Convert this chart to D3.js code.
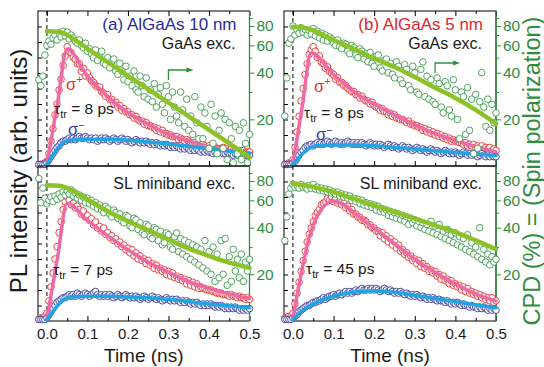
<!DOCTYPE html>
<html>
<head>
<meta charset="utf-8">
<script src="https://cdn.jsdelivr.net/npm/d3@7"></script>
<style>
  body { margin: 0; background: #fff; }
  text { font-family: "Liberation Sans", Arial, Helvetica, sans-serif; font-weight: 400; }
</style>
</head>
<body>
<svg width="544" height="367"></svg>
<script>
// traces are sampled every 5 ps from -20 ps
const t0 = -0.02, dt = 0.005;

// (a) AlGaAs 10 nm, GaAs excitation
const redA = [
  0.1,0.1,0.1,0.2,0.3,0.8,1.6,2.4,3.3,4.0,
  4.9,5.6,6.5,7.1,7.7,7.4,7.3,7.0,6.9,6.6,
  6.6,6.1,6.3,5.8,6.0,5.7,5.5,5.4,5.2,5.1,
  5.1,4.8,4.7,4.5,4.6,4.3,4.3,4.0,4.1,3.8,
  3.9,3.6,3.7,3.5,3.5,3.3,3.3,3.1,3.2,3.0,
  2.9,2.9,2.7,2.8,2.6,2.6,2.5,2.5,2.3,2.4,
  2.2,2.3,2.1,2.1,2.0,2.0,1.9,1.9,1.9,1.7,
  1.8,1.7,1.6,1.7,1.6,1.5,1.5,1.5,1.4,1.4,
  1.3,1.4,1.3,1.2,1.3,1.2,1.1,1.2,1.1,1.1,
  1.1,1.2,1.0,1.1,1.0,1.1,1.0,1.0,0.9,1.0,
  0.9,1.0,0.9,0.9,0.9];
const blueA = [
  0.1,0.1,0.1,0.1,0.2,0.4,0.6,0.8,1.0,1.2,
  1.3,1.5,1.6,1.6,1.7,1.8,1.7,1.8,1.7,1.8,
  1.9,1.8,1.8,1.9,1.8,1.7,1.8,1.7,1.8,1.6,
  1.7,1.8,1.7,1.8,1.7,1.6,1.7,1.8,1.7,1.6,
  1.7,1.8,1.7,1.6,1.7,1.6,1.5,1.6,1.7,1.6,
  1.5,1.6,1.5,1.6,1.5,1.4,1.5,1.4,1.5,1.4,
  1.3,1.4,1.3,1.4,1.3,1.2,1.3,1.2,1.3,1.2,
  1.1,1.2,1.1,1.2,1.1,1.0,1.1,1.0,1.1,1.0,
  0.9,1.0,0.9,1.0,0.9,0.9,0.8,0.9,0.8,0.9,
  0.9,0.8,0.8,0.9,0.8,0.8,0.7,0.8,0.7,0.8,
  0.7,0.8,0.7,0.7,0.7];
const cpdA = [
  36,33,38,52,60,64,61,67,70,65,
  72,68,74,69,73,66,70,67,64,62,
  65,60,58,62,55,57,53,50,56,48,
  52,55,46,45,50,43,47,49,41,39,
  46,41,36,44,35,38,33,41,31,30,
  38,33,28,37,27,31,26,34,24,29,
  32,25,22,33,28,20,30,24,21,19,
  30,23,18,27,17,21,16,28,19,15,
  24,15,22,18,13,25,14,21,12,17,
  22,13,20,11,19,15,10.5,18,12,17,
  11,19,14,10.5,16];

// (b) AlGaAs 5 nm, GaAs excitation
const redB = [
  0.1,0.1,0.2,0.2,0.4,1.2,2.2,3.2,4.2,5.0,
  5.9,6.6,7.2,7.5,7.7,7.4,7.0,7.1,6.7,6.6,
  6.3,6.4,6.1,6.0,5.9,5.6,5.7,5.4,5.4,5.2,
  5.2,5.0,4.9,4.8,4.8,4.6,4.6,4.4,4.5,4.3,
  4.2,4.2,4.0,4.1,3.9,3.8,3.8,3.6,3.7,3.5,
  3.5,3.3,3.4,3.2,3.3,3.1,3.1,3.0,3.0,2.9,
  2.8,2.9,2.7,2.7,2.6,2.6,2.5,2.5,2.3,2.4,
  2.2,2.3,2.1,2.2,2.0,2.1,1.9,2.0,1.8,1.9,
  1.7,1.8,1.6,1.7,1.6,1.6,1.5,1.5,1.4,1.5,
  1.3,1.4,1.3,1.4,1.2,1.3,1.2,1.3,1.1,1.2,
  1.1,1.2,1.0,1.1,1.0];
const blueB = [
  0.1,0.1,0.1,0.1,0.2,0.3,0.5,0.7,0.9,1.0,
  1.2,1.3,1.3,1.4,1.3,1.4,1.5,1.4,1.5,1.4,
  1.5,1.6,1.5,1.4,1.5,1.6,1.5,1.4,1.5,1.4,
  1.5,1.6,1.5,1.4,1.5,1.4,1.5,1.4,1.5,1.4,
  1.3,1.4,1.5,1.4,1.3,1.4,1.3,1.4,1.3,1.2,
  1.3,1.4,1.3,1.2,1.3,1.2,1.1,1.2,1.3,1.2,
  1.1,1.2,1.1,1.0,1.1,1.2,1.1,1.0,1.1,1.0,
  0.9,1.0,1.1,1.0,0.9,1.0,0.9,0.8,0.9,1.0,
  0.9,0.8,0.9,0.8,0.9,0.8,0.7,0.8,0.9,0.8,
  0.7,0.8,0.7,0.8,0.7,0.6,0.7,0.8,0.7,0.6,
  0.7,0.6,0.7,0.6,0.6];
const cpdB = [
  21,37,62,66,80,70,76,72,78,73,
  76,70,75,71,77,69,74,67,72,65,
  70,64,68,66,62,60,65,59,57,62,
  61,55,53,60,58,52,50,57,55,49,
  53,47,54,46,44,51,52,43,41,48,
  49,40,46,39,37,47,44,36,34,45,
  42,33,31,44,40,30,29,42,47,28,
  38,27,36,26,25,37,34,24,22,35,
  33,23,21,36,31,20,15,30,28,16,
  32,17,27,12,29,13,26,40,24,18,
  27,17,25,19,22];

// (a) AlGaAs 10 nm, SL miniband excitation
const redC = [
  0.1,0.2,0.2,0.3,0.5,1.3,2.2,3.1,4.0,4.8,
  5.7,6.4,7.2,7.7,8.0,7.8,7.5,7.6,7.3,7.4,
  7.2,6.9,7.1,6.7,6.8,6.5,6.6,6.2,6.4,6.0,
  6.1,5.8,6.0,5.6,5.7,5.4,5.5,5.2,5.3,5.0,
  5.1,4.8,4.9,4.6,4.7,4.4,4.6,4.2,4.4,4.0,
  4.2,3.9,4.0,3.7,3.9,3.6,3.7,3.4,3.6,3.3,
  3.4,3.2,3.3,3.0,3.2,2.9,3.1,2.8,2.9,2.7,
  2.8,2.6,2.7,2.4,2.6,2.3,2.5,2.2,2.4,2.1,
  2.2,2.1,2.1,2.0,2.0,2.0,1.9,1.9,1.8,1.8,
  1.8,1.7,1.7,1.7,1.6,1.7,1.6,1.6,1.5,1.6,
  1.5,1.5,1.4,1.5,1.4];
const blueC = [
  0.1,0.1,0.1,0.1,0.2,0.4,0.6,0.8,1.0,1.2,
  1.3,1.4,1.5,1.5,1.6,1.7,1.6,1.7,1.6,1.8,
  1.7,1.6,1.7,1.8,1.7,1.6,1.7,1.8,1.9,1.7,
  1.6,1.7,1.6,1.7,1.6,1.7,1.6,1.5,1.6,1.7,
  1.6,1.5,1.6,1.7,1.6,1.5,1.6,1.5,1.6,1.5,
  1.4,1.5,1.6,1.5,1.4,1.5,1.6,1.5,1.4,1.5,
  1.4,1.3,1.4,1.5,1.4,1.3,1.4,1.3,1.4,1.3,
  1.2,1.3,1.2,1.3,1.2,1.1,1.2,1.1,1.2,1.1,
  1.0,1.1,1.0,1.1,1.0,1.1,1.0,0.9,1.0,0.9,
  1.0,0.9,0.8,0.9,0.8,0.9,0.8,0.9,0.8,0.7,
  0.8,0.7,0.8,0.7,0.8];
const cpdC = [
  83,58,72,62,57,60,63,59,64,61,
  66,63,68,65,69,66,70,64,67,62,
  65,60,63,58,62,57,60,55,58,53,
  56,52,50,55,53,49,47,52,50,46,
  49,44,43,48,47,41,40,46,45,39,
  43,37,36,42,41,35,34,40,39,33,
  38,31,32,37,36,30,29,35,37,28,
  34,27,33,26,32,25,31,24,30,23,
  29,22,33,21,28,20,30,18,27,19,
  33,20,34,17,26,18,29,21,25,19,
  27,18,24,21,25];

// (b) AlGaAs 5 nm, SL miniband excitation
const redD = [
  0.2,0.2,0.3,0.3,0.5,1.1,1.8,2.5,3.2,3.9,
  4.5,5.1,5.6,6.0,6.4,6.8,7.0,7.2,7.5,7.6,
  7.7,7.9,7.8,8.0,7.7,7.9,7.6,7.7,7.5,7.6,
  7.3,7.4,7.1,7.2,6.9,6.9,6.7,6.7,6.5,6.5,
  6.4,6.2,6.2,6.0,6.0,5.8,5.8,5.5,5.7,5.3,
  5.5,5.1,5.3,4.9,5.1,4.7,4.9,4.5,4.6,4.3,
  4.4,4.1,4.2,3.9,4.0,3.7,3.9,3.5,3.7,3.4,
  3.5,3.2,3.3,3.1,3.2,2.9,3.0,2.7,2.9,2.6,
  2.7,2.4,2.6,2.3,2.4,2.2,2.3,2.0,2.2,1.9,
  2.1,1.8,1.9,1.7,1.8,1.6,1.7,1.5,1.6,1.4,
  1.5,1.3,1.5,1.2,1.3];
const blueD = [
  0.1,0.1,0.1,0.1,0.2,0.3,0.4,0.6,0.7,0.8,
  0.9,1.0,1.0,1.1,1.2,1.2,1.3,1.3,1.4,1.5,
  1.4,1.5,1.6,1.6,1.7,1.6,1.7,1.8,1.7,1.8,
  1.9,1.8,1.9,1.8,1.9,2.0,1.9,2.0,2.1,2.0,
  2.0,2.1,2.0,2.1,2.0,2.1,2.0,1.9,2.0,2.1,
  2.0,1.9,2.0,1.9,1.8,1.9,1.8,1.9,1.8,1.7,
  1.8,1.7,1.6,1.7,1.6,1.7,1.6,1.5,1.6,1.5,
  1.4,1.5,1.4,1.5,1.4,1.3,1.4,1.3,1.3,1.2,
  1.3,1.2,1.1,1.2,1.1,1.2,1.1,1.0,1.1,1.0,
  1.0,0.9,1.0,0.9,0.9,0.8,0.9,0.8,0.9,0.8,
  0.7,0.8,0.7,0.8,0.7];
const cpdD = [
  33,47,66,72,76,73,75,72,76,73,
  74,71,75,72,76,71,73,70,72,69,
  71,68,70,67,68,66,68,64,66,63,
  65,62,64,60,62,59,61,57,60,56,
  58,55,57,54,56,52,55,51,53,50,
  52,48,51,47,50,46,49,45,48,44,
  47,42,46,43,45,41,44,40,43,39,
  42,38,44,37,41,36,42,35,38,34,
  39,33,36,32,37,31,35,30,34,29,
  36,28,32,27,30,26,40,25,29,24,
  27,23,26,24,25];

// fitted curves: [time (ns), value]
const fitRedA = [[0,0.15],[0.025,3.85],[0.05,7.55],[0.1,5.8],[0.15,4.5],[0.2,3.45],[0.25,2.7],[0.3,2.05],[0.35,1.6],[0.4,1.25],[0.45,0.98],[0.5,0.8]];
const fitBlueA = [[0,0.1],[0.02,0.9],[0.04,1.5],[0.06,1.68],[0.1,1.72],[0.15,1.72],[0.2,1.66],[0.25,1.55],[0.3,1.42],[0.35,1.27],[0.4,1.12],[0.45,0.96],[0.5,0.8]];
const fitCpdA = [[0,74],[0.03,73.5],[0.05,70],[0.1,57.2],[0.15,46.8],[0.2,38.2],[0.25,31.3],[0.3,25.6],[0.35,20.9],[0.4,17.1],[0.45,14],[0.5,11.4]];

const fitRedB = [[0,0.15],[0.022,3.7],[0.045,7.3],[0.1,5.9],[0.15,4.8],[0.2,4.0],[0.25,3.3],[0.3,2.65],[0.35,2.1],[0.4,1.65],[0.45,1.25],[0.5,0.9]];
const fitBlueB = [[0,0.1],[0.02,0.7],[0.04,1.15],[0.06,1.3],[0.1,1.35],[0.15,1.35],[0.2,1.3],[0.25,1.2],[0.3,1.1],[0.35,0.98],[0.4,0.87],[0.45,0.77],[0.5,0.68]];
const fitCpdB = [[0,79],[0.03,77.5],[0.05,75],[0.08,69],[0.1,65],[0.15,57],[0.2,49.5],[0.25,43.5],[0.3,37.5],[0.35,32],[0.4,27.5],[0.45,23],[0.5,18.7]];

const fitRedC = [[0,0.15],[0.025,3.9],[0.05,7.6],[0.1,6.5],[0.15,5.5],[0.2,4.6],[0.25,3.8],[0.3,3.15],[0.35,2.55],[0.4,2.1],[0.45,1.75],[0.5,1.45]];
const fitBlueC = [[0,0.1],[0.02,0.8],[0.04,1.35],[0.06,1.55],[0.1,1.6],[0.15,1.6],[0.2,1.55],[0.25,1.5],[0.3,1.4],[0.35,1.25],[0.4,1.1],[0.45,0.98],[0.5,0.85]];
const fitCpdC = [[0,75],[0.03,74.5],[0.05,72],[0.1,61],[0.15,51],[0.2,44],[0.25,38.5],[0.3,33.5],[0.35,29.3],[0.4,26.3],[0.45,23.8],[0.5,22]];

const fitRedD = [[0,0.2],[0.02,3.0],[0.04,5.4],[0.06,6.8],[0.08,7.5],[0.1,7.75],[0.12,7.6],[0.15,7.0],[0.2,6.0],[0.25,5.0],[0.3,4.0],[0.35,3.15],[0.4,2.4],[0.45,1.75],[0.5,1.3]];
const fitBlueD = [[0,0.1],[0.02,0.6],[0.05,1.1],[0.1,1.6],[0.15,1.85],[0.2,1.95],[0.25,1.85],[0.3,1.65],[0.35,1.45],[0.4,1.25],[0.45,1.05],[0.5,0.85]];
const fitCpdD = [[0,77],[0.05,73.3],[0.1,68],[0.15,61.5],[0.2,55.7],[0.25,50.5],[0.3,45.7],[0.35,41.4],[0.4,37.5],[0.45,33.1],[0.5,29]];

const timeTicks = [0, 0.1, 0.2, 0.3, 0.4, 0.5];
const timeMinor = [0.05, 0.15, 0.25, 0.35, 0.45];
const cpdTicks = [20, 40, 60, 80];
const cpdMinor = [30, 50, 70, 90];

const C = {
  red: '#e6302a', blue: '#3a3a9c', green: '#3c9a4c',
  pink: '#ee6aa6', cyan: '#20a4e2', lime: '#8cc228', axisGreen: '#2f8e3e'
};

const svg = d3.select('svg');

const panels = [
  {x0: 38, x1: 249.5, y0: 11, y1: 166, red: redA, blue: blueA, cpd: cpdA, fr: fitRedA, fb: fitBlueA, fc: fitCpdA,
   title: '(a) AlGaAs 10 nm', titleColor: '#2b2b98', exc: 'GaAs exc.', excDy: 38, tau: '8', tauX: 16, tauDy: 103,
   sig: {px: 28, py: 79, mx: 30, my: 124}, arrow: {t: 0.3, dy: 59}, top: true},
  {x0: 284, x1: 496, y0: 11, y1: 166, red: redB, blue: blueB, cpd: cpdB, fr: fitRedB, fb: fitBlueB, fc: fitCpdB,
   title: '(b) AlGaAs 5 nm', titleColor: '#e3252b', exc: 'GaAs exc.', excDy: 38, tau: '8', tauX: 20, tauDy: 107,
   sig: {px: 30, py: 81, mx: 32, my: 129}, arrow: {t: 0.35, dy: 52}, top: true},
  {x0: 38, x1: 249.5, y0: 166, y1: 321, red: redC, blue: blueC, cpd: cpdC, fr: fitRedC, fb: fitBlueC, fc: fitCpdC,
   exc: 'SL miniband exc.', excDy: 23, tau: '7', tauX: 15, tauDy: 109, top: false},
  {x0: 284, x1: 496, y0: 166, y1: 321, red: redD, blue: blueD, cpd: cpdD, fr: fitRedD, fb: fitBlueD, fc: fitCpdD,
   exc: 'SL miniband exc.', excDy: 23, tau: '45', tauX: 22, tauDy: 108, top: false}
];

panels.forEach(p => {
  const x = d3.scaleLinear().domain([-0.022, 0.5]).range([p.x0, p.x1]);
  const yI = d3.scaleLinear().domain([0, 10]).range([p.y1, p.y0]);
  const yC = d3.scaleLog().domain([10, 100]).range([p.y1, p.y0]);
  const g = svg.append('g');
  const tAt = i => t0 + i * dt;

  g.append('rect')
    .attr('x', p.x0).attr('y', p.y0)
    .attr('width', p.x1 - p.x0).attr('height', p.y1 - p.y0)
    .attr('fill', 'none').attr('stroke', '#000').attr('stroke-width', 1);

  g.append('line')
    .attr('x1', x(0)).attr('x2', x(0)).attr('y1', p.y0).attr('y2', p.y1)
    .attr('stroke', '#000').attr('stroke-dasharray', '4,3');

  // inward ticks on time axes
  const noDomain = s => s.select('.domain').remove();
  g.append('g').attr('transform', `translate(0,${p.y1})`)
    .call(d3.axisTop(x).tickValues(timeTicks).tickSize(5).tickFormat('')).call(noDomain);
  g.append('g').attr('transform', `translate(0,${p.y1})`)
    .call(d3.axisTop(x).tickValues(timeMinor).tickSize(3).tickFormat('')).call(noDomain);
  if (p.top) {
    g.append('g').attr('transform', `translate(0,${p.y0})`)
      .call(d3.axisBottom(x).tickValues(timeTicks).tickSize(5).tickFormat('')).call(noDomain);
    g.append('g').attr('transform', `translate(0,${p.y0})`)
      .call(d3.axisBottom(x).tickValues(timeMinor).tickSize(3).tickFormat('')).call(noDomain);
  } else {
    g.append('g').attr('transform', `translate(0,${p.y1})`)
      .call(d3.axisBottom(x).tickValues(timeTicks).tickSize(0).tickPadding(7.5).tickFormat(d3.format('.1f')))
      .call(noDomain)
      .call(s => s.selectAll('text').attr('font-size', 15).attr('fill', '#1a1a1a'));
    g.append('text')
      .attr('x', (p.x0 + p.x1) / 2).attr('y', 362)
      .attr('text-anchor', 'middle').attr('font-size', 19).attr('fill', '#1a1a1a')
      .text('Time (ns)');
  }

  // PL intensity axis (no labels)
  g.append('g').attr('transform', `translate(${p.x0},0)`)
    .call(d3.axisRight(yI).tickValues(d3.range(1, 10)).tickSize(4).tickFormat('')).call(noDomain);

  // CPD axis (log)
  const ra = g.append('g').attr('transform', `translate(${p.x1},0)`).attr('color', C.axisGreen);
  ra.call(d3.axisRight(yC).tickValues(cpdTicks).tickSize(5).tickPadding(2).tickFormat(d3.format('d'))).call(noDomain);
  ra.selectAll('text').attr('font-size', 15.5).attr('fill', C.axisGreen);
  g.append('g').attr('transform', `translate(${p.x1},0)`).attr('color', C.axisGreen)
    .call(d3.axisRight(yC).tickValues(cpdMinor).tickSize(3).tickFormat('')).call(noDomain);
  g.append('line')
    .attr('x1', p.x1).attr('x2', p.x1).attr('y1', p.y0).attr('y2', p.y1)
    .attr('stroke', C.axisGreen).attr('stroke-width', 1.3);

  const dots = (vals, y, color) => g.append('g').selectAll('circle')
    .data(vals).join('circle')
      .attr('cx', (d, i) => x(tAt(i)))
      .attr('cy', d => y(d))
      .attr('r', 3.3)
      .attr('fill', '#fff')
      .attr('stroke', color)
      .attr('stroke-width', 0.9);

  const fit = (pts, y, color, w) => g.append('path')
    .attr('d', d3.line().x(d => x(d[0])).y(d => y(d[1])).curve(d3.curveMonotoneX)(pts))
    .attr('fill', 'none').attr('stroke', color).attr('stroke-width', w)
    .attr('stroke-linecap', 'round').attr('stroke-linejoin', 'round');

  dots(p.red, yI, C.red);
  dots(p.blue, yI, C.blue);
  fit(p.fr, yI, C.pink, 3.5);
  fit(p.fb, yI, C.cyan, 3.5);
  dots(p.cpd, yC, C.green);
  fit(p.fc, yC, C.lime, 4.5);

  // annotations
  if (p.title) {
    g.append('text').attr('x', p.x1 - 13).attr('y', p.y0 + 19)
      .attr('text-anchor', 'end').attr('font-size', 17).attr('fill', p.titleColor).text(p.title);
  }
  g.append('text').attr('x', p.x1 - 14).attr('y', p.y0 + p.excDy)
    .attr('text-anchor', 'end').attr('font-size', 16).attr('fill', '#1a1a1a').text(p.exc);

  const tau = g.append('text').attr('x', p.x0 + p.tauX).attr('y', p.y0 + p.tauDy)
    .attr('font-size', 15.5).attr('fill', '#1a1a1a');
  tau.append('tspan').text('\u03c4');
  tau.append('tspan').attr('font-size', 11).attr('dy', 4).text('tr');
  tau.append('tspan').attr('dy', -4).text(` = ${p.tau} ps`);

  if (p.sig) {
    const sp = g.append('text').attr('x', p.x0 + p.sig.px).attr('y', p.y0 + p.sig.py)
      .attr('font-size', 16.5).attr('fill', C.red);
    sp.append('tspan').text('\u03c3');
    sp.append('tspan').attr('font-size', 11).attr('dy', -7).text('+');
    const sm = g.append('text').attr('x', p.x0 + p.sig.mx).attr('y', p.y0 + p.sig.my)
      .attr('font-size', 16.5).attr('fill', C.blue);
    sm.append('tspan').text('\u03c3');
    sm.append('tspan').attr('font-size', 11).attr('dy', -6).text('\u2212');
  }

  if (p.arrow) {
    const ax = x(p.arrow.t), ay = p.y0 + p.arrow.dy;
    g.append('path').attr('d', `M${ax},${ay + 10}V${ay}H${ax + 19}`)
      .attr('fill', 'none').attr('stroke', C.axisGreen).attr('stroke-width', 1.3);
    g.append('path').attr('d', `M${ax + 18},${ay - 2.6}L${ax + 25},${ay}L${ax + 18},${ay + 2.6}Z`)
      .attr('fill', C.axisGreen);
  }
});

svg.append('text')
  .attr('transform', 'translate(27,171) rotate(-90)')
  .attr('text-anchor', 'middle').attr('font-size', 24).attr('fill', '#1a1a1a')
  .text('PL intensity (arb. units)');

svg.append('text')
  .attr('transform', 'translate(540,171) rotate(-90)')
  .attr('text-anchor', 'middle').attr('font-size', 23.5).attr('fill', C.axisGreen)
  .text('CPD (%) = (Spin polarization)');
</script>
</body>
</html>
